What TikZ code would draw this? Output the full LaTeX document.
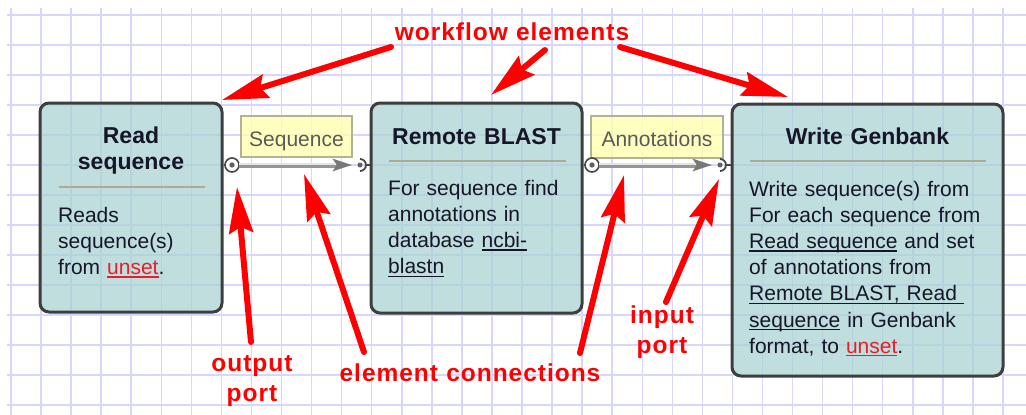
\documentclass[tikz,border=0pt]{standalone}
\usepackage{fontspec}
\setmainfont{Liberation Sans}
\newfontfamily\annfont[LetterSpace=4]{Liberation Sans}
\usetikzlibrary{arrows.meta}
\definecolor{gridc}{RGB}{214,214,255}
\definecolor{boxfill}{RGB}{170,211,210}
\definecolor{boxdraw}{RGB}{62,62,62}
\definecolor{sepc}{RGB}{178,168,150}
\definecolor{txtc}{RGB}{22,22,40}
\definecolor{lblfill}{RGB}{255,255,176}
\definecolor{lbldraw}{RGB}{178,178,150}
\definecolor{lbltxt}{RGB}{90,90,90}
\definecolor{annred}{RGB}{255,0,0}
\definecolor{linkred}{RGB}{232,30,40}
\definecolor{connc}{RGB}{150,150,150}
\definecolor{connarr}{RGB}{120,120,120}
\definecolor{connhi}{RGB}{228,228,228}
\definecolor{portc}{RGB}{70,70,70}
\newcommand\myul[1]{\leavevmode\setbox0\hbox{#1}\rlap{\rule[-3.2pt]{\wd0}{1.3pt}}\box0\relax}
\begin{document}
\begin{tikzpicture}[x=1pt,y=-1pt,
  wfbox/.style={draw=boxdraw, line width=3pt, rounded corners=9pt, fill=boxfill, fill opacity=0.75, inner sep=0pt},
  titletxt/.style={font=\fontsize{23}{26}\selectfont\bfseries, text=txtc, text width=220pt, align=center, inner sep=0pt},
  bodytxt/.style={font=\fontsize{21}{26.2}\selectfont, text=txtc, text width=260pt, align=left, inner sep=0pt},
  sepline/.style={draw=sepc, line width=1.5pt},
  lblbox/.style={draw=lbldraw, line width=1.5pt, fill=lblfill, fill opacity=0.8, text opacity=1, text=lbltxt, font=\fontsize{21}{24}\selectfont, text height=19pt, text depth=0pt, inner sep=0pt},
  outport/.style={circle, draw=portc, line width=1.6pt, fill=white, minimum size=14pt, inner sep=0pt, outer sep=0pt},
  inport/.style={circle, minimum size=12pt, inner sep=0pt, outer sep=0pt},
  portdot/.style={fill=portc!85!white},
  stub/.style={draw=portc, line width=2.5pt},
  connbase/.style={draw=connc, line width=5pt, -{Stealth[length=19pt,width=12pt,inset=4pt,color=connarr]}},
  connhilite/.style={draw=connhi, line width=1.5pt},
  redarrow/.style={draw=annred, line width=6pt, line cap=round, -{Stealth[length=46pt,width=24pt,inset=6pt]}},
  anntxt/.style={font=\annfont\fontsize{24.5}{30.5}\selectfont\bfseries, text=annred, text width=320pt, align=center, inner sep=0pt}
]
\useasboundingbox (0,0) rectangle (1026,415);
\fill[white] (0,0) rectangle (1026,415);
\foreach \k in {0,...,33} {\draw[gridc, line width=1.5pt] ({11+30.06*\k},8) -- ({11+30.06*\k},415);}
\foreach \k in {0,...,13} {\draw[gridc, line width=1.5pt] (7,{15+30*\k}) -- (1026,{15+30*\k});}

% workflow elements
\node[wfbox, minimum width=182pt, minimum height=209pt] (b1) at (131,207.5) {};
\node[wfbox, minimum width=211pt, minimum height=210pt] (b2) at (476.5,208) {};
\node[wfbox, minimum width=271pt, minimum height=272pt] (b3) at (867.5,240) {};

\node[titletxt, anchor=base] (t1) at (131,143) {Read\\sequence};
\node[titletxt, anchor=base] (t2) at (476.5,144) {Remote BLAST};
\node[titletxt, anchor=base] (t3) at (867.5,144) {Write Genbank};

\draw[sepline] (59,187) -- (205,187);
\draw[sepline] (389,161) -- (566,161);
\draw[sepline] (750,161) -- (986,161);

\node[bodytxt, anchor=base west] (d1) at (58,222) {Reads\\sequence(s)\\from \textcolor{linkred}{\myul{unset}}.};
\node[bodytxt, anchor=base west] (d2) at (388,195) {For sequence find\\annotations in\\database \myul{ncbi-}\\\myul{blastn}};
\node[bodytxt, anchor=base west] (d3) at (749,196) {Write sequence(s) from\\For each sequence from\\\myul{Read sequence} and set\\of annotations from\\\myul{Remote BLAST, Read }\\\myul{sequence} in Genbank\\format, to \textcolor{linkred}{\myul{unset}}.};

% connection labels
\node[lblbox, minimum width=111pt, minimum height=41pt] (l1) at (296.5,136.5) {Sequence};
\node[lblbox, minimum width=132pt, minimum height=42pt] (l2) at (657,137) {Annotations};

% ports
\node[outport] (o1) at (232,165) {};
\node[inport] (i1) at (360,165) {};
\node[outport] (o2) at (592,165) {};
\node[inport] (i2) at (720,165) {};

% connection 1
\draw[stub] (b1.east |- o1) -- (o1.west);
\draw[connbase, shorten >=8pt] (o1.east) -- (i1.center);
\draw[connhilite] ([yshift=1pt]o1.east) -- ([xshift=-24pt,yshift=1pt]i1.center);
\fill[portdot] (o1.center) circle (2.7);
\fill[portdot] (i1.center) circle (2.5);
\draw[stub, line width=1.8pt] (i1.north) arc[start angle=-90, end angle=90, radius=6];
\draw[stub] (i1.east) -- (i1.east -| b2.west);

% connection 2
\draw[stub] (b2.east |- o2) -- (o2.west);
\draw[connbase, shorten >=8pt] (o2.east) -- (i2.center);
\draw[connhilite] ([yshift=1pt]o2.east) -- ([xshift=-24pt,yshift=1pt]i2.center);
\fill[portdot] (o2.center) circle (2.7);
\fill[portdot] (i2.center) circle (2.5);
\draw[stub, line width=1.8pt] (i2.north) arc[start angle=-90, end angle=90, radius=6];
\draw[stub] (i2.east) -- (i2.east -| b3.west);

% annotations
\node[anntxt, anchor=base] (wf) at (512,40) {workflow elements};
\node[anntxt, anchor=base] (ec) at (470,381) {element connections};
\node[anntxt, anchor=base] (op) at (252,371) {output\\port};
\node[anntxt, anchor=base] (ip) at (662,323) {input\\port};

\coordinate (a1s) at (391,47);  \coordinate (a1e) at (222,100);
\coordinate (a2s) at (545,50);  \coordinate (a2e) at (491,95);
\coordinate (a3s) at (620,47);  \coordinate (a3e) at (788,97);
\coordinate (a4s) at (251,342); \coordinate (a4e) at (237,187);
\coordinate (a5s) at (364,352); \coordinate (a5e) at (304,174);
\coordinate (a6s) at (580,353); \coordinate (a6e) at (624,175);
\coordinate (a7s) at (666,302); \coordinate (a7e) at (719,179);

\draw[redarrow] (a1s) -- (a1e);
\draw[redarrow] (a2s) -- (a2e);
\draw[redarrow] (a3s) -- (a3e);
\draw[redarrow] (a4s) -- (a4e);
\draw[redarrow] (a5s) -- (a5e);
\draw[redarrow] (a6s) -- (a6e);
\draw[redarrow] (a7s) -- (a7e);
\end{tikzpicture}
\end{document}
